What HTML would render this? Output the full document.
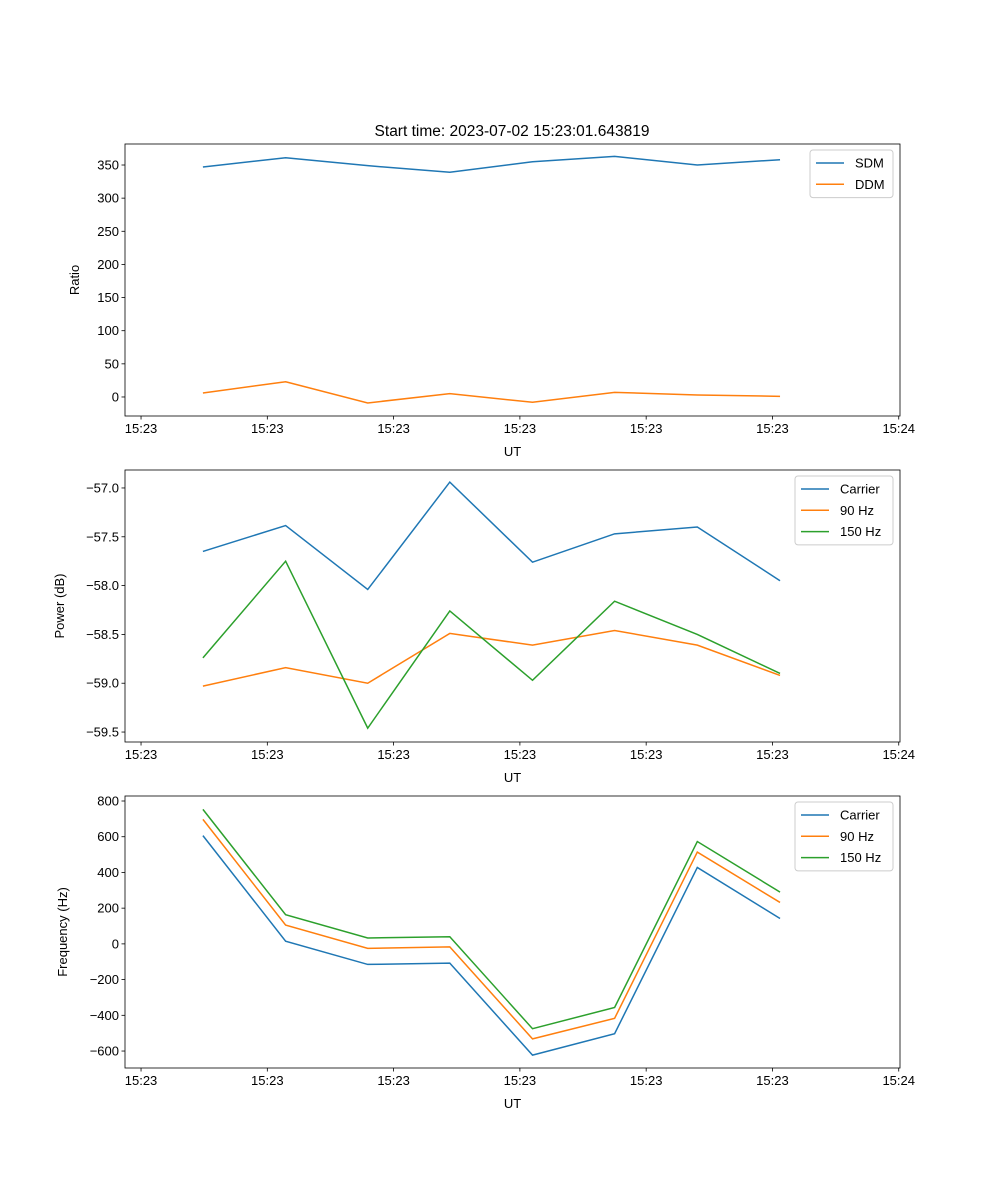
<!DOCTYPE html>
<html><head><meta charset="utf-8"><style>
html,body{margin:0;padding:0;background:#fff}
svg{display:block;font-family:"Liberation Sans","DejaVu Sans",sans-serif}
</style></head><body>
<svg id="fig" width="1000" height="1200" viewBox="0 0 1000 1200" xmlns="http://www.w3.org/2000/svg"></svg>
<script>
const times = [4.9, 11.45, 17.95, 24.45, 31.0, 37.5, 44.05, 50.6];
const xTickVals = [0, 10, 20, 30, 40, 50, 60];
const xTickLabels = ["15:23","15:23","15:23","15:23","15:23","15:23","15:24"];
const sdm = [347, 361, 349, 339, 355, 363, 350, 358];
const ddm = [6, 23, -9, 5, -8, 7, 3, 1];
const powCarrier = [-57.65, -57.385, -58.04, -56.94, -57.76, -57.47, -57.40, -57.95];
const pow90 = [-59.03, -58.84, -59.0, -58.49, -58.61, -58.46, -58.61, -58.92];
const pow150 = [-58.74, -57.75, -59.46, -58.26, -58.97, -58.16, -58.50, -58.90];
const freqCarrier = [606, 15, -115, -108, -623, -503, 428, 142];
const freq90 = [697, 105, -25, -17, -532, -417, 514, 232];
const freq150 = [753, 163, 33, 40, -475, -356, 573, 290];
const ratioTicks = [0, 50, 100, 150, 200, 250, 300, 350];
const powTicks = [-57.0, -57.5, -58.0, -58.5, -59.0, -59.5];
const freqTicks = [800, 600, 400, 200, 0, -200, -400, -600];

const NS = "http://www.w3.org/2000/svg";
const svg = document.getElementById("fig");
function mk(tag, attrs, parent) {
  const e = document.createElementNS(NS, tag);
  for (const k in attrs) e.setAttribute(k, attrs[k]);
  (parent || svg).appendChild(e);
  return e;
}
const C = {blue:"#1f77b4", orange:"#ff7f0e", green:"#2ca02c"};
const L = 125, R = 900;
const xMin = -1.27, xMax = 60.1;
const xs = t => L + (t - xMin) / (xMax - xMin) * (R - L);

function panel(name, top, bot, yMin, yMax, yTicks, fmt, ylabel, series, legend) {
  const g = mk("g", {});
  
  
  const ys = v => bot - (v - yMin) / (yMax - yMin) * (bot - top);
  series.forEach(s => {
    const p = mk("polyline", {points: times.map((t, i) => xs(t) + "," + ys(s.vals[i])).join(" "), fill: "none", stroke: s.color, "stroke-width": 1.5}, g);
    
    
  });
  const frame = mk("rect", {x: L, y: top, width: R - L, height: bot - top, fill: "none", stroke: "#000", "stroke-width": 0.8}, g);
  
  
  xTickVals.forEach((v, i) => {
    const x = xs(v);
    mk("line", {x1: x, x2: x, y1: bot, y2: bot + 3.5, stroke: "#000", "stroke-width": 0.8}, g);
    const t = mk("text", {x: x, y: bot + 17, "font-size": 13, "text-anchor": "middle"}, g);
    t.textContent = xTickLabels[i];
    
    
  });
  const xl = mk("text", {x: (L + R) / 2, y: bot + 40, "font-size": 13, "text-anchor": "middle"}, g);
  xl.textContent = "UT";
  
  
  yTicks.forEach(v => {
    const y = ys(v);
    mk("line", {x1: L - 3.5, x2: L, y1: y, y2: y, stroke: "#000", "stroke-width": 0.8}, g);
    const t = mk("text", {x: L - 6, y: y + 4.5, "font-size": 13, "text-anchor": "end"}, g);
    t.textContent = fmt(v);
    
    
  });
  const yl = mk("text", {x: 0, y: 0, "font-size": 13, "text-anchor": "middle", transform: `translate(${legend.ylx},${(top + bot) / 2}) rotate(-90)`}, g);
  yl.textContent = ylabel;
  
  
  const lg = mk("g", {}, g);
  
  
  mk("rect", {x: legend.x, y: top + 6, width: R - 7 - legend.x, height: 5 + series.length * 21.3, rx: 3, fill: "#fff", "fill-opacity": 0.8, stroke: "#ccc"}, lg);
  series.forEach((s, i) => {
    const y = top + 19 + i * 21.3;
    mk("line", {x1: legend.x + 6, x2: legend.x + 34, y1: y, y2: y, stroke: s.color, "stroke-width": 1.5}, lg);
    const t = mk("text", {x: legend.x + 45, y: y + 4.5, "font-size": 13}, lg);
    t.textContent = s.label;
    
    
  });
  return g;
}

const title = mk("text", {x: 512, y: 136, "font-size": 15.5, "text-anchor": "middle"});
title.textContent = "Start time: 2023-07-02 15:23:01.643819";



panel("ratio-panel", 144, 416, -28.7, 381.7, ratioTicks, v => String(v), "Ratio",
  [{id: "sdm", vals: sdm, color: C.blue, label: "SDM"}, {id: "ddm", vals: ddm, color: C.orange, label: "DDM"}],
  {x: 810, ylx: 79});
panel("power-panel", 470, 742, -59.602, -56.816, powTicks, v => "\u2212" + Math.abs(v).toFixed(1), "Power (dB)",
  [{id: "power-carrier", vals: powCarrier, color: C.blue, label: "Carrier"},
   {id: "power-90hz", vals: pow90, color: C.orange, label: "90 Hz"},
   {id: "power-150hz", vals: pow150, color: C.green, label: "150 Hz"}],
  {x: 795, ylx: 64});
panel("frequency-panel", 796, 1068, -695, 828, freqTicks, v => (v < 0 ? "\u2212" : "") + Math.abs(v), "Frequency (Hz)",
  [{id: "freq-carrier", vals: freqCarrier, color: C.blue, label: "Carrier"},
   {id: "freq-90hz", vals: freq90, color: C.orange, label: "90 Hz"},
   {id: "freq-150hz", vals: freq150, color: C.green, label: "150 Hz"}],
  {x: 795, ylx: 67});
</script>
</body></html>
